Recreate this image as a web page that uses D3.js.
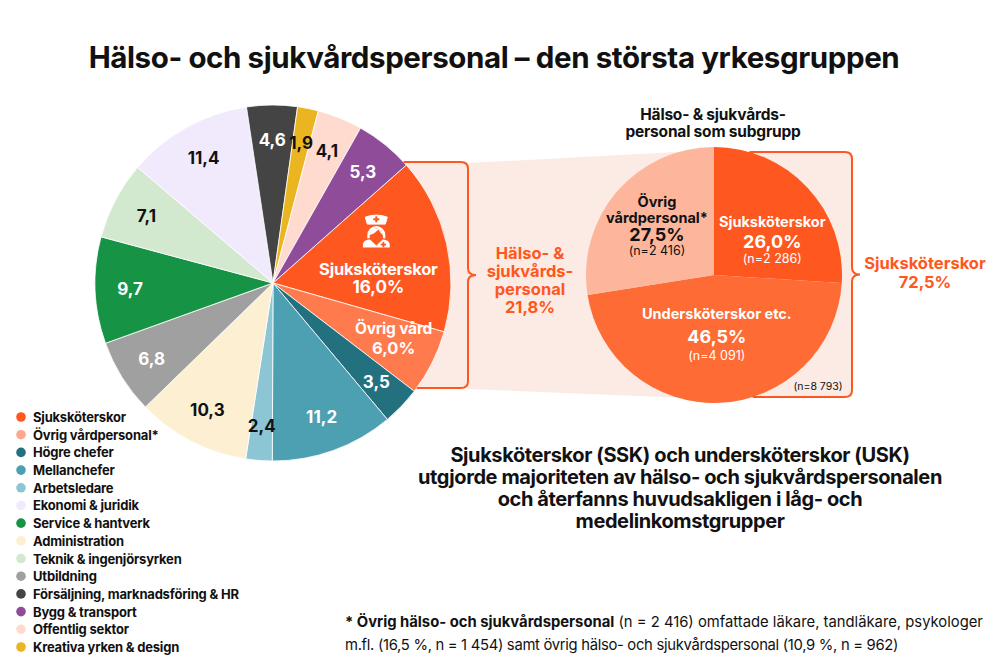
<!DOCTYPE html>
<html>
<head>
<meta charset="utf-8">
<script src="https://cdn.jsdelivr.net/npm/d3@7"></script>
<style>
  html,body{margin:0;padding:0;background:#fff;}
  svg{display:block;font-family:Inter, "Noto Sans", sans-serif;}
</style>
</head>
<body>
<svg id="chart" width="1000" height="664"></svg>
<script>
// ---------- DATA ----------
const pieCats = ["Sjuksköterskor","Övrig vård","Högre chefer","Mellanchefer","Arbetsledare","Administration","Utbildning","Service & hantverk","Teknik & ingenjörsyrken","Ekonomi & juridik","Försäljning, marknadsföring & HR","Kreativa yrken & design","Offentlig sektor","Bygg & transport"];
const pieVals = [16.0, 6.0, 3.5, 11.2, 2.4, 10.3, 6.8, 9.7, 7.1, 11.4, 4.6, 1.9, 4.1, 5.3];
const pieColors = ["#FE5720","#FF7A4D","#23707F","#4DA0B2","#8CC6D4","#FCEFD2","#A0A0A0","#179346","#D3E9CF","#F1E9FC","#444444","#EAB520","#FFDBCF","#8E4C99"];
const pieLabelDark = [false,false,false,false,true,true,false,false,true,true,false,true,true,false];

const legendCats = ["Sjuksköterskor","Övrig vårdpersonal*","Högre chefer","Mellanchefer","Arbetsledare","Ekonomi & juridik","Service & hantverk","Administration","Teknik & ingenjörsyrken","Utbildning","Försäljning, marknadsföring & HR","Bygg & transport","Offentlig sektor","Kreativa yrken & design"];
const legendColors = ["#FE5720","#FFA68C","#23707F","#4DA0B2","#8CC6D4","#F1E9FC","#179346","#FCEFD2","#D3E9CF","#A0A0A0","#444444","#8E4C99","#FFDBCF","#EAB520"];

const subCats = ["Sjuksköterskor","Undersköterskor etc.","Övrig vårdpersonal*"];
const subVals = [26.0, 46.5, 27.5];
const subN = ["2 286","4 091","2 416"];
const subColors = ["#FE5720","#FF6B35","#FDB69C"];
const subTotalN = "8 793";
const healthShare = 21.8;
const sskUskShare = 72.5;

const fmt = v => d3.format(".1f")(v).replace(".", ",");

// ---------- SETUP ----------
const svg = d3.select("#chart");
const ORANGE = "#FE5720";
const PINK = "#FCEBE5";

// Title
svg.append("text").attr("x", 494).attr("y", 57).attr("text-anchor","middle").attr("dominant-baseline","central")
  .attr("font-size", 29.5).attr("font-weight", 700).attr("fill","#111").attr("letter-spacing","-0.4")
  .text("Hälso- och sjukvårdspersonal – den största yrkesgruppen");

// geometry
const mc = {x:273, y:283, r:178};
const sc = {x:714, y:275, r:128};
const br1 = {x:468, top:162, bot:388};
const br2 = {x:852, top:152, bot:397};

// pink band between brackets
svg.append("path")
  .attr("d", `M${br1.x},${br1.top+1} L${sc.x},${br2.top-2} L${sc.x},${br2.bot+2} L${br1.x},${br1.bot+1} Z`)
  .attr("fill", PINK);
svg.append("rect").attr("x", mc.x).attr("y", br1.top).attr("width", br1.x-mc.x).attr("height", br1.bot-br1.top).attr("fill", PINK);
svg.append("rect").attr("x", sc.x).attr("y", br2.top).attr("width", br2.x-sc.x).attr("height", br2.bot-br2.top).attr("fill", PINK);

function brace(cx, cy, R, b){
  const xt = cx + Math.sqrt(Math.max(0, R*R - (b.top-cy)*(b.top-cy)));
  const xb = cx + Math.sqrt(Math.max(0, R*R - (b.bot-cy)*(b.bot-cy)));
  const mid = (b.top+b.bot)/2, r = 7, x = b.x;
  return `M${xt},${b.top} H${x-r} Q${x},${b.top} ${x},${b.top+r} V${mid-7} Q${x},${mid} ${x+8},${mid} Q${x},${mid} ${x},${mid+7} V${b.bot-r} Q${x},${b.bot} ${x-r},${b.bot} H${xb}`;
}

// ---------- MAIN PIE ----------
const start = 48.5 * Math.PI/180;
const pie = d3.pie().sort(null).value(d => d.v).startAngle(start).endAngle(start + 2*Math.PI);
const pieData = pie(pieCats.map((c,i)=>({c, v:pieVals[i], i})));
const arc = d3.arc().innerRadius(0).outerRadius(mc.r);
const gMain = svg.append("g").attr("transform", `translate(${mc.x},${mc.y})`);
gMain.selectAll("path").data(pieData).join("path")
  .attr("d", arc).attr("fill", d => pieColors[d.data.i])
  .attr("stroke", "#fff").attr("stroke-width", 0.8);

svg.append("path").attr("d", brace(mc.x, mc.y, mc.r, br1)).attr("fill","none").attr("stroke", ORANGE).attr("stroke-width", 2);

const labelArc = d3.arc().innerRadius(143).outerRadius(143);
gMain.selectAll("text.val").data(pieData.filter(d => d.data.i > 1)).join("text")
  .attr("class","val")
  .attr("transform", d => { const [x,y] = labelArc.centroid(d); return `translate(${x},${y})`; })
  .attr("text-anchor","middle").attr("dominant-baseline","central")
  .attr("font-size", 17).attr("font-weight", 700)
  .attr("fill", d => pieLabelDark[d.data.i] ? "#111" : "#fff")
  .text(d => fmt(d.data.v));

// Sjuksköterskor label with icon
const bigArc = d3.arc().innerRadius(108).outerRadius(108);
const [sx, sy] = bigArc.centroid(pieData[0]);
const gS = gMain.append("g").attr("transform", `translate(${sx},${sy})`);
gS.append("text").attr("y", 10).attr("text-anchor","middle").attr("dominant-baseline","central")
  .attr("font-size", 16.5).attr("font-weight",700).attr("fill","#fff").attr("letter-spacing","-0.2").text(pieCats[0]);
gS.append("text").attr("y", 28).attr("text-anchor","middle").attr("dominant-baseline","central")
  .attr("font-size", 17).attr("font-weight",700).attr("fill","#fff").text(fmt(pieVals[0]) + "%");
// nurse icon
const ic = gS.append("g").attr("transform", "translate(-2,-44)");
ic.append("path").attr("d","M-11,2 Q0,-2 11,2 L9,9 L-9,9 Z").attr("fill","#fff").attr("stroke","#fff").attr("stroke-width",1).attr("stroke-linejoin","round");
ic.append("rect").attr("x",-1).attr("y",1.2).attr("width",2).attr("height",6).attr("fill",ORANGE);
ic.append("rect").attr("x",-3).attr("y",3.2).attr("width",6).attr("height",2).attr("fill",ORANGE);
ic.append("path").attr("d","M-9,28 V20 A9,9 0 0 1 9,20 V28 H6.6 V21 A6.6,7.5 0 0 0 -6.6,21 V28 Z").attr("fill","#fff");
ic.append("path").attr("d","M-6.6,20 Q-2,19 2,14.5 Q4,18 6.6,20 Q6,14 0,13.5 Q-6,14 -6.6,20 Z").attr("fill","#fff");
ic.append("path").attr("d","M-14,33 V29.5 Q-14,24.5 -6.5,23.5 L0,29.5 L6.5,23.5 Q14,24.5 14,29.5 V33 Z")
  .attr("fill","#fff").attr("stroke",ORANGE).attr("stroke-width",1.2);
ic.append("rect").attr("x",6.2).attr("y",26.8).attr("width",1.8).attr("height",5.4).attr("fill",ORANGE);
ic.append("rect").attr("x",4.4).attr("y",28.6).attr("width",5.4).attr("height",1.8).attr("fill",ORANGE);

// Övrig vård label
const ovArc = d3.arc().innerRadius(135).outerRadius(135);
const [ox, oy] = ovArc.centroid(pieData[1]);
const gO = gMain.append("g").attr("transform", `translate(${ox},${oy})`);
gO.append("text").attr("y", -15).attr("text-anchor","middle").attr("dominant-baseline","central")
  .attr("font-size", 15.5).attr("font-weight",700).attr("fill","#fff").attr("letter-spacing","-0.2").text(pieCats[1]);
gO.append("text").attr("y", 4).attr("text-anchor","middle").attr("dominant-baseline","central")
  .attr("font-size", 16.5).attr("font-weight",700).attr("fill","#fff").text(fmt(pieVals[1]) + "%");

// middle label
const midLines = ["Hälso- &", "sjukvårds-", "personal", fmt(healthShare) + "%"];
svg.append("g").selectAll("text").data(midLines).join("text")
  .attr("x", 530).attr("y", (d,i) => 253 + i*18).attr("text-anchor","middle").attr("dominant-baseline","central")
  .attr("font-size", 16.5).attr("font-weight",700).attr("fill", ORANGE).text(d => d);

// ---------- SUB PIE ----------
const subPie = d3.pie().sort(null).value(d => d.v);
const subData = subPie(subCats.map((c,i)=>({c, v:subVals[i], i})));
const subArc = d3.arc().innerRadius(0).outerRadius(sc.r);
const gSub = svg.append("g").attr("transform", `translate(${sc.x},${sc.y})`);
gSub.selectAll("path").data(subData).join("path")
  .attr("d", subArc).attr("fill", d => subColors[d.data.i]);

svg.append("path").attr("d", brace(sc.x, sc.y, sc.r, br2)).attr("fill","none").attr("stroke", ORANGE).attr("stroke-width", 2);

const subLabelR = [80, 60, 75];
const subOffsets = [[1,21,38],[-21,2,21],[-9,8,24]];
subData.forEach((d,k) => {
  const a = d3.arc().innerRadius(subLabelR[k]).outerRadius(subLabelR[k]);
  const [x,y] = a.centroid(d);
  const g = gSub.append("g").attr("transform", `translate(${x},${y})`);
  const col = k === 2 ? "#111" : "#fff";
  const off = subOffsets[k];
  let nameLines = [d.data.c];
  if (k === 2) nameLines = ["Övrig", "vårdpersonal*"];
  nameLines.forEach((t,j) => {
    g.append("text").attr("y", k===2 ? off[0] - 16*(nameLines.length-1-j) : off[0])
      .attr("text-anchor","middle").attr("dominant-baseline","central")
      .attr("font-size", 14.5).attr("font-weight",700).attr("fill",col).text(t);
  });
  g.append("text").attr("y", off[1]).attr("text-anchor","middle").attr("dominant-baseline","central")
    .attr("font-size", 18).attr("font-weight",700).attr("fill",col).text(fmt(d.data.v) + "%");
  g.append("text").attr("y", off[2]).attr("text-anchor","middle").attr("dominant-baseline","central")
    .attr("font-size", 12.5).attr("font-weight",400).attr("fill",col).text("(n=" + subN[d.data.i] + ")");
});

svg.append("text").attr("x", 818).attr("y", 386).attr("text-anchor","middle").attr("dominant-baseline","central")
  .attr("font-size", 10.5).attr("fill","#111").text("(n=" + subTotalN + ")");

// sub title
svg.append("g").selectAll("text").data(["Hälso- & sjukvårds-", "personal som subgrupp"]).join("text")
  .attr("x", 713).attr("y", (d,i) => 114 + i*17).attr("text-anchor","middle").attr("dominant-baseline","central")
  .attr("font-size", 15.5).attr("font-weight",700).attr("fill","#111").attr("letter-spacing","-0.2").text(d => d);

// right label
svg.append("g").selectAll("text").data(["Sjuksköterskor", fmt(sskUskShare) + "%"]).join("text")
  .attr("x", 925).attr("y", (d,i) => 263 + i*19).attr("text-anchor","middle").attr("dominant-baseline","central")
  .attr("font-size", 16.5).attr("font-weight",700).attr("fill", ORANGE).text(d => d);

// ---------- LEGEND ----------
const lg = svg.append("g");
const ly = d3.scalePoint().domain(legendCats).range([417, 647]);
legendCats.forEach((c,i) => {
  lg.append("circle").attr("cx", 21).attr("cy", ly(c)).attr("r", 4.8).attr("fill", legendColors[i]);
  lg.append("text").attr("x", 33).attr("y", ly(c)).attr("dominant-baseline","central")
    .attr("font-size", 13).attr("font-weight",700).attr("fill","#111").attr("letter-spacing","-0.2").text(c);
});

// ---------- TEXT BLOCKS ----------
const bodyLines = ["Sjuksköterskor (SSK) och undersköterskor (USK)", "utgjorde majoriteten av hälso- och sjukvårdspersonalen", "och återfanns huvudsakligen i låg- och", "medelinkomstgrupper"];
svg.append("g").selectAll("text").data(bodyLines).join("text")
  .attr("x", 680).attr("y", (d,i) => 455 + i*22).attr("text-anchor","middle").attr("dominant-baseline","central")
  .attr("font-size", 20).attr("font-weight",700).attr("fill","#111").attr("letter-spacing","-0.4").text(d => d);

const fn1 = svg.append("text").attr("x", 345).attr("y", 622).attr("dominant-baseline","central")
  .attr("font-size", 14.8).attr("fill","#111");
fn1.append("tspan").attr("font-weight",700).text("* Övrig hälso- och sjukvårdspersonal");
fn1.append("tspan").text(" (n = 2 416) omfattade läkare, tandläkare, psykologer");
svg.append("text").attr("x", 345).attr("y", 645).attr("dominant-baseline","central")
  .attr("font-size", 14.8).attr("fill","#111").attr("letter-spacing","-0.3")
  .text("m.fl. (16,5 %, n = 1 454) samt övrig hälso- och sjukvårdspersonal (10,9 %, n = 962)");
</script>
</body>
</html>
